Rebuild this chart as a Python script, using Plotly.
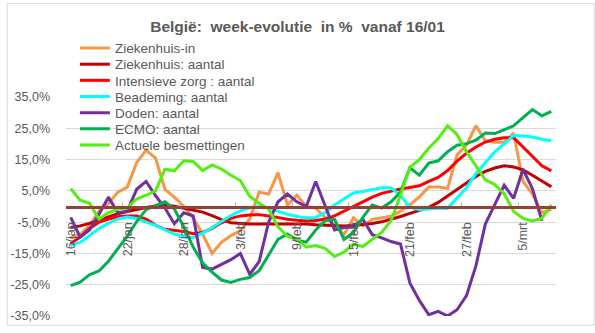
import pandas as pd
import plotly.graph_objects as go

# ---- data (week-evolution in %, daily from 16/01/2021) ----
dates = pd.date_range("2021-01-16", periods=52, freq="D")

ziekenhuis_in = [-10, -9, -6, -1.5, 1, 4.6, 6.2, 14, 18, 15.5,
                 5.5, 3, 0, -3.6, -8.8, -15, -11.4, -9.3, -7.7, -4,
                 4.6, 4, 10.8, 0.5, 3.6, 0, -0.5, -3.5, -6, -9,
                 -3.6, -6.2, -4.1, -3.6, -3.1, -1.5, 0.5, 3.1, 6.2, 6.2,
                 5.8, 16.5, 19.6, 25.8, 21, 20.5, 20.5, 23.5, 8, 4,
                 -2, -1]
ziekenhuis_aantal = [-6.7, -6.2, -5.4, -4.3, -3.2, -2.3, -1.6, -0.9, -0.3, 0.2,
                     0.5, 0.1, -0.5, -1.0, -1.8, -2.9, -4.2, -5.2, -5.5, -5.6,
                     -5.6, -5.6, -5.5, -5.5, -5.5, -5.6, -5.8, -6.0, -6.2, -6.2,
                     -6.1, -5.8, -5.4, -4.9, -4.1, -3.2, -2.2, -1.2, -0.3, 1.3,
                     3.3, 5.5, 7.5, 9.6, 11.2, 12.3, 13.0, 12.6, 11.7, 10.0,
                     8.2, 6.3]
intensieve_zorg = [-11.8, -9.8, -7.0, -5.0, -4.0, -3.3, -3.0, -3.0, -4.0, -6.0,
                   -7.3, -7.6, -8.0, -8.7, -8.3, -7.0, -5.2, -3.8, -3.0, -2.7,
                   -2.6, -3.0, -3.6, -4.1, -4.4, -4.6, -4.5, -4.0, -3.0, -1.4,
                   0.0, 1.5, 3.0, 4.2, 5.0, 5.6, 6.1, 6.6, 8.0, 9.3,
                   11.5, 14.5, 17.0, 19.0, 20.6, 21.5, 22.0, 22.0, 19.0, 16.0,
                   13.0, 11.4]
beademing = [-12.4, -11.5, -9.3, -7.0, -5.4, -4.0, -3.4, -3.8, -5.0, -6.0,
             -7.5, -8.8, -9.6, -9.9, -8.5, -6.8, -4.8, -2.9, -1.4, -0.4,
             0.0, -0.5, -1.5, -2.5, -3.2, -3.6, -3.5, -2.0, 0.5, 2.5,
             4.3, 4.8, 5.3, 6.0, 6.0, 3.5, -0.2, -1.0, -0.8, -0.5,
             -0.6, 2.6, 6.0, 10.5, 14.0, 17.5, 20.0, 22.7, 22.5, 22.2,
             21.5, 21.0]
doden = [-3.5, -9.8, -7.5, -2.5, 3, -2, -1.5, 5.5, 8, 3.5,
         -0.5, -5.5, -2, -3, -19.5, -20, -18.5, -17, -15, -21.7,
         -17.6, -5, 1.5, 4, 1.5, 0, 8, 0.5, -7.5, -6.7,
         -6.5, -4.1, -9, -10, -11.2, -12, -24.5, -30, -34.6, -33.5,
         -35, -33, -28.5, -19, -5.6, 0.6, 6.8, 2.6, 11.9, 5.7,
         -4.6, None]
ecmo = [-25.3, -24.2, -21.8, -20.6, -17.5, -13.5, -9.5, -4.8, -1.0, 0.3,
        1.5, -0.8, -6.5, -13.0, -18.0, -21.0, -23.5, -24.3, -23.3, -22.7,
        -20.5, -15.5, -10.5, -8.8, -10.8, -11.4, -7.5, -4.5, -4.1, -10.5,
        -8.3, -3.5, 0.5, -0.5, 1.5, 4.6, 12.4, 10.0, 13.9, 14.6,
        17.5, 19.6, 20.1, 21.2, 23.5, 23.3, 24.5, 25.8, 28.4, 31.0,
        29.0, 30.4]
actuele_besmettingen = [5.7, 2.0, 1.0, -4.0, -2.0, -0.8, -0.5, 2.4, 3.6, 5.0,
                        11.9, 11.4, 14.6, 14.4, 11.5, 13.3, 12.0, 10.0, 8.3, 3.2,
                        1.0, -0.8, -6.5, -9.5, -10.5, -13.0, -12.5, -13.4, -16.0, -14.6,
                        -12.0, -12.8, -10.5, -8.3, -4.5, 3.6, 12.5, 15.0, 18.6, 21.7,
                        25.8, 23.0, 17.5, 13.0, 8.5, 7.0, 4.0, -1.5, -3.8, -4.6,
                        -3.8, 0.5]

series_names = ["Ziekenhuis-in", "Ziekenhuis: aantal", "Intensieve zorg : aantal",
                "Beademing: aantal", "Doden: aantal", "ECMO: aantal",
                "Actuele besmettingen"]
series_values = [ziekenhuis_in, ziekenhuis_aantal, intensieve_zorg, beademing,
                 doden, ecmo, actuele_besmettingen]
series_colors = ["#F79646", "#C00000", "#FF0000", "#00FFFF", "#7030A0",
                 "#00B050", "#55EE11"]

x_tick_dates = pd.date_range("2021-01-16", periods=9, freq="6D")
x_tick_labels = ["16/jan", "22/jan", "28/jan", "3/feb", "9/feb", "15/feb",
                 "21/feb", "27/feb", "5/mrt"]
y_tick_values = [35, 25, 15, 5, -5, -15, -25, -35]
y_tick_labels = ["35,0%", "25,0%", "15,0%", "5,0%", "-5,0%", "-15,0%",
                 "-25,0%", "-35,0%"]

# ---- layout geometry (pixels) ----
W, H = 595, 333
ML, MR, MT, MB = 60, 39, 97, 10
PW, PH = W - ML - MR, H - MT - MB

def py(ypx):
    return (H - MB - ypx) / PH

def px(xpx):
    return (xpx - ML) / PW

FONT = "Liberation Sans"
GREY = "#595959"

fig = go.Figure()
legend_ids = ["legend"] + [f"legend{i}" for i in range(2, 8)]
for name, vals, col, lid in zip(series_names, series_values, series_colors, legend_ids):
    fig.add_trace(go.Scatter(x=dates, y=vals, name=name, mode="lines",
                             line=dict(color=col, width=3),
                             legend=lid, connectgaps=False))

layout_legends = {}
for k, lid in enumerate(legend_ids):
    layout_legends[lid] = dict(
        x=px(69), y=py(46.7 + 16.67 * k), xanchor="left", yanchor="middle",
        bgcolor="rgba(0,0,0,0)", borderwidth=0,
        font=dict(family=FONT, size=13.5, color=GREY),
    )

half_day = pd.Timedelta(hours=12)
fig.update_layout(
    width=W, height=H,
    margin=dict(l=ML, r=MR, t=MT, b=MB),
    paper_bgcolor="white", plot_bgcolor="white",
    showlegend=True,
    title=dict(text="België:\u00a0 week-evolutie\u00a0 in %\u00a0 vanaf 16/01",
               x=0.5, xref="container", xanchor="center",
               y=1 - 27 / H, yref="container", yanchor="middle",
               font=dict(family=FONT, size=15.5, color=GREY, weight="bold")),
    xaxis=dict(
        type="date",
        range=[dates[0] - half_day, dates[-1] + half_day],
        anchor="free", position=0.5,
        showgrid=False, zeroline=False,
        showline=True, linecolor="#9E3D38", linewidth=2.5,
        tickmode="array",
        tickvals=[d - half_day for d in x_tick_dates],
        ticktext=x_tick_labels,
        ticklabelshift=5,
        ticklabelstandoff=9,
        ticks="inside", ticklen=4, tickcolor="#BFBFBF", tickwidth=1,
        tickangle=-90,
        tickfont=dict(family=FONT, size=12.5, color=GREY),
    ),
    yaxis=dict(
        range=[-35, 35],
        tickmode="array", tickvals=y_tick_values, ticktext=y_tick_labels,
        showgrid=True, gridcolor="#D9D9D9", gridwidth=1,
        zeroline=False, showline=False, ticks="",
        ticklabelstandoff=15,
        tickfont=dict(family=FONT, size=12.5, color=GREY),
    ),
    shapes=[dict(type="rect", xref="paper", yref="paper",
                 x0=px(0.5), x1=px(W - 0.5), y0=py(H - 0.5), y1=py(0.5),
                 line=dict(color="#D9D9D9", width=1), layer="below")],
    **layout_legends,
)

fig.write_html("out.html")
